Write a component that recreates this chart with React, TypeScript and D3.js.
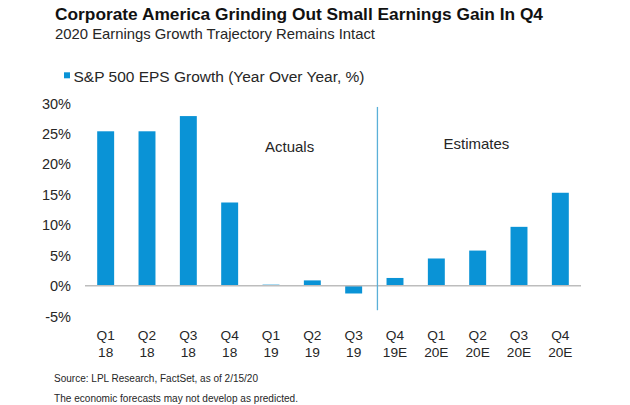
import React from "react";
import * as d3 from "d3";

const categories = ["Q1 18", "Q2 18", "Q3 18", "Q4 18", "Q1 19", "Q2 19", "Q3 19", "Q4 19E", "Q1 20E", "Q2 20E", "Q3 20E", "Q4 20E"];
const values = [25.4, 25.4, 27.9, 13.7, 0.2, 0.9, -1.25, 1.3, 4.5, 5.8, 9.7, 15.3];
const yTicks = [-5, 0, 5, 10, 15, 20, 25, 30];
const title = "Corporate America Grinding Out Small Earnings Gain In Q4";
const subtitle = "2020 Earnings Growth Trajectory Remains Intact";
const legendLabel = "S&P 500 EPS Growth (Year Over Year, %)";
const sectionLabels = ["Actuals", "Estimates"];
const footnotes = ["Source: LPL Research, FactSet, as of 2/15/20", "The economic forecasts may not develop as predicted."];

const W = 630;
const H = 405;
const FONT = '"Liberation Sans", Arial, sans-serif';
const BAR = "#0a93d6";
const TEXT = "#262626";

export default function App() {
  const x = d3.scaleBand<string>().domain(categories).range([85, 581]).paddingInner(0.59).paddingOuter(0.295);
  const y = d3.scaleLinear().domain([-5, 30]).range([316.3, 103.3]);
  const step = x.step();
  const divX = (x(categories[7]) as number) - step * 0.22;

  return (
    <svg width={W} height={H} style={{ position: "absolute", left: 0, top: 0, background: "#fff" }} fontFamily={FONT}>
      <rect width={W} height={H} fill="#fff" />
      <text x={55} y={19.5} fontSize={17} fontWeight="bold" fill="#111" textLength={488} lengthAdjust="spacingAndGlyphs">{title}</text>
      <text x={55} y={38.5} fontSize={14.5} fill={TEXT} textLength={320} lengthAdjust="spacingAndGlyphs">{subtitle}</text>

      <rect x={64} y={72.3} width={6} height={6} fill={BAR} />
      <text x={73.5} y={81.5} fontSize={15.3} fill={TEXT} textLength={291} lengthAdjust="spacingAndGlyphs">{legendLabel}</text>

      {yTicks.map((t) => (
        <text key={t} x={71} y={y(t)} dy="0.36em" textAnchor="end" fontSize={14.5} fill={TEXT}>{`${t}%`}</text>
      ))}

      {values.map((v, i) => (
        <rect
          key={categories[i]}
          x={x(categories[i])}
          width={x.bandwidth()}
          y={y(Math.max(0, v))}
          height={Math.abs(y(v) - y(0))}
          fill={BAR}
        />
      ))}

      <line x1={85} x2={581} y1={y(0)} y2={y(0)} stroke="#bdbdbd" strokeWidth={1.5} />

      <line x1={divX} x2={divX} y1={y(29.4)} y2={y(-4)} stroke="#5ab0d8" strokeWidth={1.3} />

      <text x={265} y={151.5} fontSize={15} fill={TEXT}>{sectionLabels[0]}</text>
      <text x={443.5} y={149} fontSize={15} fill={TEXT}>{sectionLabels[1]}</text>

      {categories.map((c) => {
        const [a, b] = c.split(" ");
        const cx = (x(c) as number) + x.bandwidth() / 2;
        return (
          <g key={c}>
            <text x={cx} y={339.7} textAnchor="middle" fontSize={13.7} fill={TEXT}>{a}</text>
            <text x={cx} y={356.5} textAnchor="middle" fontSize={13.7} fill={TEXT}>{b}</text>
          </g>
        );
      })}

      <text x={54} y={381.7} fontSize={10} fill={TEXT} textLength={204} lengthAdjust="spacingAndGlyphs">{footnotes[0]}</text>
      <text x={54} y={401.5} fontSize={10} fill={TEXT} textLength={244} lengthAdjust="spacingAndGlyphs">{footnotes[1]}</text>
    </svg>
  );
}
